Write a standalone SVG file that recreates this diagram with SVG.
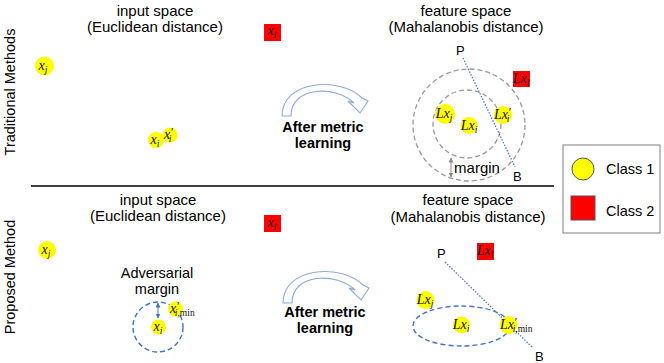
<svg xmlns="http://www.w3.org/2000/svg" width="664" height="363" viewBox="0 0 664 363">
<defs>
<style>
.lbl{font-family:"Liberation Sans",Arial,sans-serif;font-size:15px;fill:#000;text-anchor:middle}
.side{font-family:"Liberation Sans",Arial,sans-serif;font-size:14.5px;fill:#000;text-anchor:middle}
.bold{font-family:"Liberation Sans",Arial,sans-serif;font-size:14.5px;font-weight:bold;fill:#000;text-anchor:middle}
.pb{font-family:"Liberation Sans",Arial,sans-serif;font-size:13px;fill:#000}
.m{font-family:"Liberation Serif","Times New Roman",serif;font-style:italic;font-size:14px;fill:#111;text-anchor:middle}
.ms{text-anchor:start}
.s{font-size:9.5px}
.pr{font-size:12px}
.up{font-style:normal}
.y{fill:#ffff00}
.r{fill:#ff0000}
.gd{fill:none;stroke:#9a9a9a;stroke-width:1.3;stroke-dasharray:5 3}
.bd{fill:none;stroke:#4472c4;stroke-width:1.4;stroke-dasharray:5 3}
.pbl{fill:none;stroke:#4472c4;stroke-width:1.2;stroke-dasharray:1.5 1.5}
.arc{fill:#fff;stroke:#8eaadb;stroke-width:1.1}
</style>
<marker id="ga" viewBox="0 0 10 10" refX="9" refY="5" markerWidth="5" markerHeight="5" orient="auto-start-reverse"><path d="M0,0 L10,5 L0,10 Z" fill="#8a8a8a"/></marker>
<marker id="ba" viewBox="0 0 10 10" refX="9" refY="5" markerWidth="5" markerHeight="5" orient="auto-start-reverse"><path d="M0,0 L10,5 L0,10 Z" fill="#4472c4"/></marker>
<path id="carrow" d="M282,116 C282,80 340,76 362,98 L368,101 L360,113 L348,101 L354,103 C336,85 291,86 291,116 Z"/>
</defs>

<!-- side labels -->
<text class="side" transform="translate(15,92) rotate(-90)">Traditional Methods</text>
<text class="side" transform="translate(15,277) rotate(-90)">Proposed Method</text>

<!-- headers -->
<text class="lbl" x="155" y="16">input space</text>
<text class="lbl" x="155" y="32">(Euclidean distance)</text>
<text class="lbl" x="466" y="16">feature space</text>
<text class="lbl" x="466" y="32">(Mahalanobis distance)</text>
<text class="lbl" x="158" y="205">input space</text>
<text class="lbl" x="158" y="221">(Euclidean distance)</text>
<text class="lbl" x="468" y="205">feature space</text>
<text class="lbl" x="468" y="222">(Mahalanobis distance)</text>

<line x1="31" y1="186" x2="554" y2="186" stroke="#000" stroke-width="1.6"/>

<!-- connectors / guides -->
<g id="connectors">
<use href="#carrow" class="arc"/>
<use href="#carrow" class="arc" transform="translate(1,187)"/>
<circle class="gd" cx="469" cy="125" r="56"/>
<circle class="gd" cx="467" cy="124" r="34"/>
<line x1="451" y1="158" x2="451" y2="177" stroke="#8a8a8a" stroke-width="1" marker-start="url(#ga)" marker-end="url(#ga)"/>
<line class="pbl" x1="463" y1="58" x2="515" y2="167"/>
<circle class="bd" cx="158" cy="327" r="25"/>
<line x1="158" y1="303" x2="158" y2="318" stroke="#4472c4" stroke-width="1" marker-start="url(#ba)" marker-end="url(#ba)"/>
<ellipse class="bd" cx="461.5" cy="326" rx="48.5" ry="20" stroke-dasharray="7 4"/>
<line class="pbl" x1="445" y1="262" x2="533" y2="348"/>
</g>

<text class="bold" x="323" y="132">After metric</text>
<text class="bold" x="323" y="148">learning</text>
<text class="bold" x="325" y="317">After metric</text>
<text class="bold" x="325" y="333">learning</text>

<text class="pb" x="456" y="55">P</text>
<text class="pb" x="513" y="181">B</text>
<text class="pb" x="437" y="258">P</text>
<text class="pb" x="535" y="361">B</text>
<text class="lbl" x="477" y="173">margin</text>
<text class="side" x="157" y="278">Adversarial</text>
<text class="side" x="157" y="294">margin</text>

<!-- top input space -->
<g id="t-xj"><circle class="y" cx="44.5" cy="66" r="9.5"/><text class="m" x="43" y="70">x<tspan class="s" dy="3">j</tspan></text></g>
<g id="t-xi"><circle class="y" cx="156" cy="140" r="8"/><text class="m" x="155" y="144">x<tspan class="s" dy="3">i</tspan></text></g>
<g id="t-xip"><circle class="y" cx="170" cy="135" r="7.5"/><text class="m ms" x="164" y="139">x<tspan class="pr" dy="-3">′</tspan><tspan class="s" dx="-4" dy="6">i</tspan></text></g>
<g id="t-xl"><rect class="r" x="264" y="24" width="17" height="17"/><text class="m" x="272" y="35">x<tspan class="s" dy="3">l</tspan></text></g>

<!-- top feature space -->
<g id="t-Lxj"><circle class="y" cx="445" cy="114" r="10"/><text class="m" x="444" y="118">Lx<tspan class="s" dy="3">j</tspan></text></g>
<g id="t-Lxi"><circle class="y" cx="469" cy="125.5" r="8.5"/><text class="m" x="469" y="130">Lx<tspan class="s" dy="3">i</tspan></text></g>
<g id="t-Lxip"><circle class="y" cx="503" cy="115" r="9"/><text class="m ms" x="494" y="119">Lx<tspan class="pr" dy="-3">′</tspan><tspan class="s" dx="-4" dy="6">i</tspan></text></g>
<g id="t-Lxl"><rect class="r" x="513" y="71" width="17" height="16"/><text class="m" x="521" y="83">Lx<tspan class="s" dy="3">l</tspan></text></g>

<!-- bottom input space -->
<g id="b-xj"><circle class="y" cx="47" cy="250" r="9"/><text class="m" x="46" y="254">x<tspan class="s" dy="3">j</tspan></text></g>
<g id="b-xl"><rect class="r" x="264" y="215" width="17" height="17"/><text class="m" x="272" y="227">x<tspan class="s" dy="3">l</tspan></text></g>
<g id="b-xi"><circle class="y" cx="158.5" cy="327" r="7.5"/><text class="m" x="158" y="331">x<tspan class="s" dy="3">i</tspan></text></g>
<g id="b-xim"><circle class="y" cx="175.5" cy="309" r="7.5"/><text class="m ms" x="170" y="313">x<tspan class="pr" dy="-3">′</tspan><tspan class="s" dx="-4" dy="6">i</tspan><tspan class="s up">,min</tspan></text></g>

<!-- bottom feature space -->
<g id="b-Lxj"><circle class="y" cx="425.5" cy="300" r="9"/><text class="m" x="425" y="304">Lx<tspan class="s" dy="3">j</tspan></text></g>
<g id="b-Lxi"><circle class="y" cx="461.5" cy="325" r="8.5"/><text class="m" x="461" y="329">Lx<tspan class="s" dy="3">i</tspan></text></g>
<g id="b-Lxim"><circle class="y" cx="508.5" cy="325" r="9"/><text class="m ms" x="500" y="329">Lx<tspan class="pr" dy="-3">′</tspan><tspan class="s" dx="-4" dy="6">i</tspan><tspan class="s up">,min</tspan></text></g>
<g id="b-Lxl"><rect class="r" x="477" y="243" width="17" height="17"/><text class="m" x="485" y="255">Lx<tspan class="s" dy="3">l</tspan></text></g>

<!-- legend -->
<g id="legend">
<rect x="563" y="145" width="97" height="88" fill="#fff" stroke="#808080" stroke-width="1"/>
<circle cx="583" cy="169" r="11" fill="#ffff00" stroke="#555" stroke-width="1"/>
<text x="606" y="174" font-family="Liberation Sans,Arial,sans-serif" font-size="14.5">Class 1</text>
<rect x="571" y="196" width="24" height="24" fill="#ff0000" stroke="#555" stroke-width="1"/>
<text x="606" y="216" font-family="Liberation Sans,Arial,sans-serif" font-size="14.5">Class 2</text>
</g>
</svg>
